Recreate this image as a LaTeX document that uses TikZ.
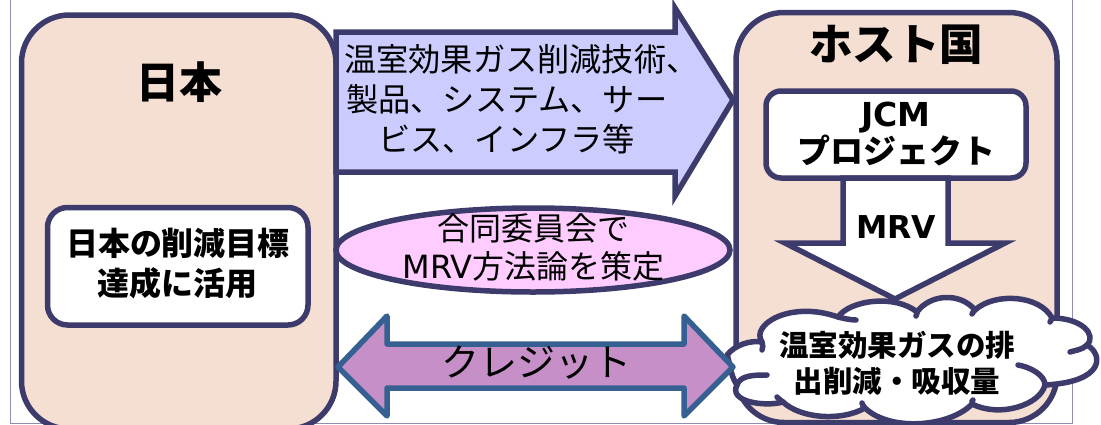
\documentclass[tikz,border=0pt]{standalone}
\usepackage{fontspec}
\setmainfont{Noto Sans CJK JP}
\newfontfamily\latinf{DejaVu Sans}
\usetikzlibrary{calc,shapes.geometric}
\definecolor{edgec}{HTML}{3D3B6B}
\definecolor{peach}{HTML}{F5DFD2}
\definecolor{lav}{HTML}{CCCCFF}
\definecolor{pinkc}{HTML}{FFCCFF}
\definecolor{purp}{HTML}{C68FC8}
\definecolor{bluee}{HTML}{376092}
\definecolor{framec}{HTML}{8E8EB0}
\tikzset{
  x=1pt,y=-1pt,
  panel/.style={draw=edgec,line width=5.5pt,fill=peach,rectangle,rounded corners=48pt,inner sep=0pt},
  whitebox/.style={draw=edgec,line width=5.5pt,fill=white,rectangle,rounded corners=20pt,inner sep=0pt,align=center,text=black},
  blockarrow/.style={draw=edgec,line width=5.5pt,line join=miter},
  bold/.style={font=\fontsize{#1}{#1}\selectfont\bfseries,text=black,inner sep=0pt},
  plain/.style={font=\fontsize{#1}{#1}\selectfont,text=black,inner sep=0pt},
}
\begin{document}
\begin{tikzpicture}
\useasboundingbox (0,0) rectangle (1101,424);
\clip (0,0) rectangle (1101,424);
\draw[framec,line width=1pt] (10.5,0) -- (10.5,423.5) -- (1072,423.5) -- (1072,0);
% panels
\node[panel,minimum width=314.5pt,minimum height=414pt] (japan) at (178.75,222) {};
\node[panel,minimum width=321pt,minimum height=410pt] (host) at (896.5,217.5) {};
\node[bold=43pt] (japanlabel) at (179,82) {日本};
\node[bold=43.5pt] (hostlabel) at (896,45) {ホスト国};
\node[whitebox,minimum width=260.5pt,minimum height=117.5pt] (goal) at (177.75,266.25) {};
\node[inner sep=0pt,align=center,font=\fontsize{32pt}{40.5pt}\selectfont\bfseries] (goaltext) at (178,263.5) {日本の削減目標\\達成に活用};
% top arrow
\path[blockarrow,fill=lav] (336,32) -- (675,32) -- (675,8) -- (733,100) -- (675,196) -- (675,172) -- (336,172) -- cycle;
\node[plain=32.2pt,anchor=west] (techa) at (344,59) {温室効果ガス削減技術、};
\node[plain=32.2pt,anchor=west] (techb) at (346,99) {製品、システム、サー};
\node[plain=32.2pt,anchor=west] (techc) at (378,139) {ビス、インフラ等};
% JCM
\node[whitebox,minimum width=260pt,minimum height=87pt,rounded corners=15pt] (jcm) at (896,134.5) {};
\node[inner sep=0pt,align=center,font=\fontsize{33pt}{35pt}\selectfont\bfseries] (jcmtext) at (896,134) {{\latinf JCM}\\プロジェクト};
% MRV arrow
\path[blockarrow,fill=white] (843,178) -- (948,178) -- (948,243) -- (1005,243) -- (895,299) -- (785,243) -- (843,243) -- cycle;
\node[inner sep=0pt,font=\fontsize{31.5pt}{31.5pt}\selectfont\latinf\bfseries] (mrv) at (896,227) {MRV};
% ellipse
\node[draw=edgec,line width=5.5pt,fill=pinkc,ellipse,minimum width=394pt,minimum height=84pt,inner sep=0pt] (council) at (533,250) {};
\node[align=center,inner sep=0pt,font=\fontsize{32pt}{38pt}\selectfont] (counciltext) at (533.5,247) {合同委員会で\\{\latinf MRV}方法論を策定};
% cloud
\path[fill=white,draw=edgec,line width=5.5pt,line join=round]
 (727,355) .. controls (735,345) and (750,340) .. (762,342)
 .. controls (750,325) and (790,300) .. (838,317)
 .. controls (850,300) and (895,294) .. (917,312)
 .. controls (930,294) and (960,292) .. (975,310)
 .. controls (995,292) and (1040,295) .. (1052,318)
 .. controls (1082,318) and (1097,335) .. (1087,345)
 .. controls (1104,355) and (1104,382) .. (1045,385)
 .. controls (1040,405) and (1000,418) .. (972,404)
 .. controls (950,427) and (890,432) .. (865,408)
 .. controls (840,422) and (800,418) .. (783,402)
 .. controls (765,407) and (728,402) .. (737,385)
 .. controls (730,375) and (730,362) .. (727,355) -- cycle;
\draw[edgec,line width=5.5pt,line cap=round]
 (838,317) .. controls (842,318) and (850,320) .. (856,320)
 (917,312) .. controls (917,313) and (917,314) .. (916,316)
 (975,310) .. controls (974,311) and (973,312) .. (972,314)
 (1052,318) .. controls (1052,319) and (1051,320) .. (1050,322)
 (1087,345) .. controls (1082,350) and (1076,350) .. (1070,352)
 (1045,385) .. controls (1045,375) and (1030,367) .. (1018,365)
 (972,404) .. controls (972,402) and (972,400) .. (973,400)
 (865,408) .. controls (863,406) and (862,404) .. (862,403)
 (783,402) .. controls (780,400) and (778,398) .. (777,397)
 (737,385) .. controls (740,375) and (755,375) .. (767,375)
 (762,342) .. controls (763,345) and (763,348) .. (762,350);
\node[align=center,inner sep=0pt,font=\fontsize{29.5pt}{36pt}\selectfont\bfseries] (reduction) at (897,363) {温室効果ガスの排\\出削減・吸収量};
% double arrow
\path[draw=bluee,line width=5.5pt,fill=purp,line join=round] (338,367) -- (387,316) -- (387,344) -- (684,344) -- (684,316) -- (733,367) -- (684,416) -- (684,388) -- (387,388) -- (387,416) -- cycle;
\node[plain=38pt] (credit) at (536,363) {クレジット};
\end{tikzpicture}
\end{document}
